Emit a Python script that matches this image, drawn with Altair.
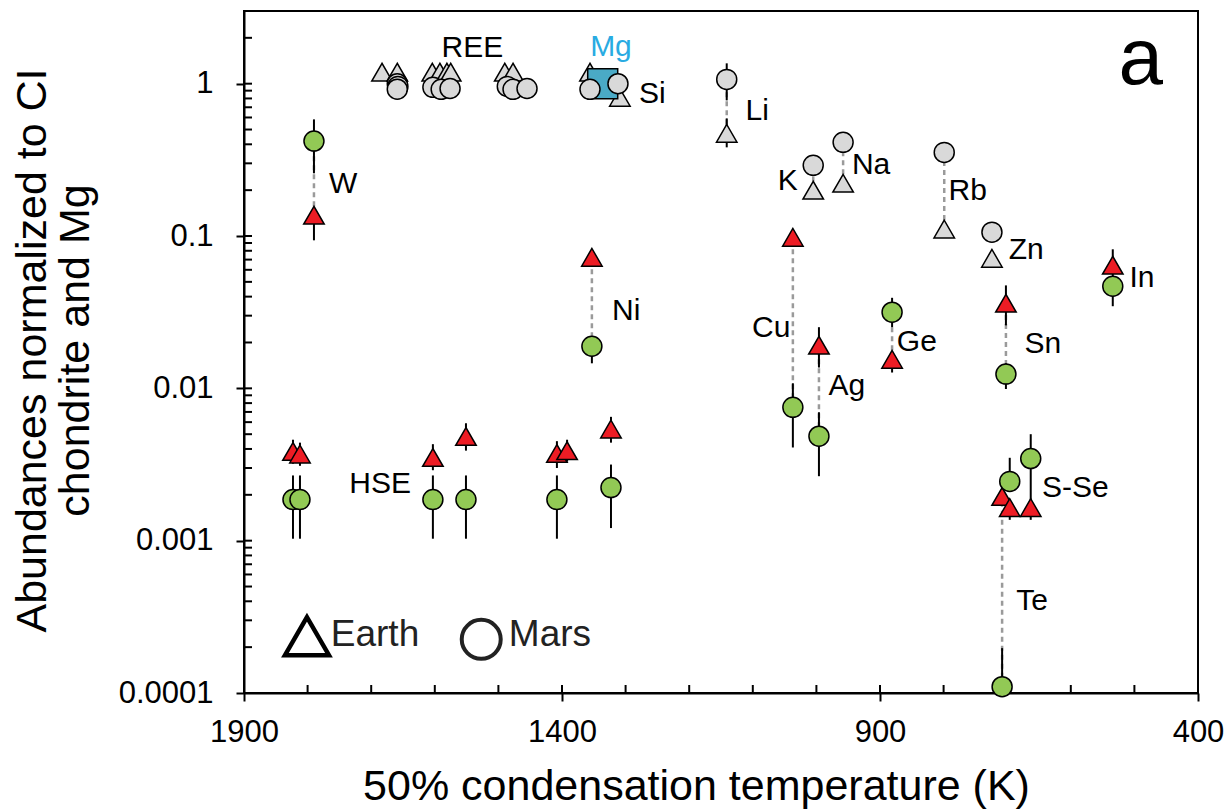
import altair as alt
import pandas as pd

FONT = "Liberation Sans"

# ---- Earth (triangles) lithophile / volatile lithophile (gray)
earth_lith_T = [1683, 1659, 1604, 1592, 1581, 1575, 1490, 1477, 1356, 1309, 1141, 1005, 958, 799, 724]
earth_lith_v = [1.19, 1.19, 1.19, 1.19, 1.19, 1.19, 1.19, 1.19, 1.19, 0.813, 0.472, 0.20, 0.222, 0.111, 0.0714]

# ---- Mars (circles) lithophile (gray)
mars_lith_T = [1659, 1658, 1659, 1603, 1590, 1576, 1486, 1477, 1455, 1356, 1312, 1141, 1005, 958, 799, 724]
mars_lith_v = [1.0, 0.96, 0.92, 0.946, 0.918, 0.93, 0.96, 0.918, 0.93, 0.918, 1.0, 1.067, 0.291, 0.412, 0.354, 0.106]

# ---- Earth siderophile / chalcophile (red triangles)
earth_sid_T = [1790, 1823, 1812, 1603, 1551, 1408, 1392, 1323, 1353, 1037, 996, 881, 702, 534, 708, 696, 663]
earth_sid_v = [0.137, 0.00385, 0.0037, 0.00352, 0.00483, 0.00374, 0.0039, 0.0054, 0.0725, 0.098, 0.0192,
               0.0155, 0.0362, 0.0643, 0.00195, 0.00165, 0.00165]

# ---- Mars siderophile / chalcophile (green circles)
mars_sid_T = [1790, 1823, 1812, 1603, 1551, 1408, 1323, 1353, 1037, 996, 881, 702, 534, 708, 696, 663]
mars_sid_v = [0.42, 0.00186, 0.00186, 0.00186, 0.00186, 0.00186, 0.00223, 0.0189, 0.0075, 0.00485,
              0.0316, 0.0124, 0.0468, 0.00011, 0.00245, 0.00346]

# ---- Mg reference
mg_T = [1336]
mg_v = [1.0]

# ---- error bars (T, low, high)
err_T = [1790, 1790, 1823, 1812, 1603, 1551, 1408, 1323,
         1823, 1812, 1603, 1551, 1408, 1392, 1323,
         1353, 1141, 1141, 1005, 534, 1037, 996, 996, 881, 881, 702, 702, 663, 696, 696, 708]
err_lo = [0.258, 0.0937, 0.00103, 0.00103, 0.00103, 0.00103, 0.00103, 0.00121,
          0.0032, 0.0031, 0.0029, 0.0039, 0.0030, 0.0033, 0.0044,
          0.0146, 0.777, 0.382, 0.177, 0.0346, 0.00409, 0.0137, 0.00265, 0.0252, 0.0127, 0.0259, 0.0099,
          0.00137, 0.00245, 0.00137, 0.00011]
err_hi = [0.583, 0.137, 0.00268, 0.00268, 0.00268, 0.00268, 0.00268, 0.00316,
          0.0046, 0.0044, 0.0043, 0.0059, 0.0045, 0.0046, 0.0065,
          0.0189, 1.36, 0.592, 0.20, 0.0818, 0.0108, 0.0252, 0.00697, 0.0393, 0.0155, 0.0474, 0.0146,
          0.0050, 0.0035, 0.00165, 0.000197]

# ---- dashed connectors Earth <-> Mars (T, a, b)
con_T = [1790, 1353, 1141, 1005, 958, 799, 1037, 996, 881, 702, 708]
con_a = [0.137, 0.0189, 0.472, 0.20, 0.222, 0.111, 0.0075, 0.00485, 0.0155, 0.0124, 0.00011]
con_b = [0.42, 0.0725, 1.067, 0.291, 0.412, 0.354, 0.098, 0.0192, 0.0316, 0.0362, 0.00195]

# ---- element labels (baseline position in data units)
lab_text = ["REE", "Si", "W", "Ni", "Li", "K", "Na", "Rb", "Zn", "In", "Cu", "Ag", "Ge", "Sn", "S-Se", "Te", "HSE"]
lab_T = [1541, 1258, 1744, 1299, 1093, 1045, 914, 762, 670, 488, 1071, 952, 842, 644, 593, 661, 1686]
lab_v = [1.488, 0.743, 0.1906, 0.028, 0.574, 0.1995, 0.254, 0.1715, 0.0703, 0.046, 0.0216, 0.009,
         0.0175, 0.017, 0.00193, 0.00035, 0.00205]

mg_lab = ["Mg"]
mg_lab_T = [1323]
mg_lab_v = [1.51]

panel_lab = ["a"]
panel_T = [490]
panel_v = [1.0]

# ---- legend
leg_text = ["Earth", "Mars"]
leg_text_T = [1694, 1419]
leg_text_v = [0.000203, 0.000203]
leg_shape = ["triangle-up", "circle"]
leg_sym_T = [1801, 1527]
leg_sym_v = [0.000236, 0.000225]

# ---- axis ticks
x_major = [1900, 1400, 900, 400]
x_minor = [1800, 1700, 1600, 1500, 1400, 1300, 1200, 1100, 1000, 900, 800, 700, 600, 500]
y_major = [0.0001, 0.001, 0.01, 0.1, 1]
y_minor = [m * d for d in [0.0001, 0.001, 0.01, 0.1, 1] for m in [1, 2, 3, 4, 5, 6, 7, 8, 9] if m * d < 3]

W, H = 954, 682

xs = alt.Scale(domain=[400, 1900], reverse=True, nice=False, zero=False)
ys = alt.Scale(type="log", domain=[0.0001, 3], nice=False)

x_axis = alt.Axis(values=x_major, format="d", title="50% condensation temperature (K)",
                  titleFontSize=43, titleFontWeight="normal", titleX=452, titleY=106,
                  titleBaseline="alphabetic", titleAlign="center",
                  labelFontSize=31, labelPadding=16, labelFlush=False,
                  tickSize=8, tickWidth=2, tickColor="black",
                  domainColor="black", domainWidth=2, grid=False,
                  labelColor="black", titleColor="black", labelFont=FONT, titleFont=FONT)
y_axis = alt.Axis(values=y_major, format="~g",
                  title=["Abundances normalized to CI", "chondrite and Mg"],
                  titleFontSize=43, titleFontWeight="normal", titleX=-212, titleY=339,
                  titleAngle=-90, titleBaseline="middle", titleAlign="center", titleLineHeight=43,
                  labelFontSize=31, labelPadding=23,
                  tickSize=8, tickWidth=2, tickColor="black",
                  domainColor="black", domainWidth=2, grid=False,
                  labelColor="black", titleColor="black", labelFont=FONT, titleFont=FONT)


def X(field="T"):
    return alt.X(f"{field}:Q", scale=xs, axis=x_axis)


def Y(field="v"):
    return alt.Y(f"{field}:Q", scale=ys, axis=y_axis)


con_df = pd.DataFrame({"T": con_T, "a": con_a, "b": con_b})
connectors = alt.Chart(con_df).mark_rule(color="#9a9a9a", strokeWidth=2.5, strokeDash=[5, 4]).encode(
    x=X(), y=Y("a"), y2="b:Q")

err_df = pd.DataFrame({"T": err_T, "lo": err_lo, "hi": err_hi})
errbars = alt.Chart(err_df).mark_rule(color="black", strokeWidth=2).encode(
    x=X(), y=Y("lo"), y2="hi:Q")

xt_df = pd.DataFrame({"T": x_minor})
xticks = alt.Chart(xt_df).mark_rule(color="black", strokeWidth=2).encode(
    x=X(), y=alt.value(H), y2=alt.value(H - 8))

yt_df = pd.DataFrame({"v": y_minor})
yticks = alt.Chart(yt_df).mark_rule(color="black", strokeWidth=2).encode(
    y=Y(), x=alt.value(0), x2=alt.value(8))

frame = alt.Chart(pd.DataFrame({"k": [0]})).mark_rect(fill=None, stroke="black", strokeWidth=2).encode(
    x=alt.value(0), x2=alt.value(W), y=alt.value(0), y2=alt.value(H))

el_df = pd.DataFrame({"T": earth_lith_T, "v": earth_lith_v})
earth_lith = alt.Chart(el_df).mark_point(shape="triangle-up", size=420, filled=True, fill="#d9d9d9",
                                          stroke="black", strokeWidth=1.5, opacity=1).encode(x=X(), y=Y())

mg_df = pd.DataFrame({"T": mg_T, "v": mg_v})
mg_box = alt.Chart(mg_df).mark_point(shape="square", size=900, filled=True, fill="#4aaac6",
                                     stroke="black", strokeWidth=1.5, opacity=1).encode(x=X(), y=Y())

ml_df = pd.DataFrame({"T": mars_lith_T, "v": mars_lith_v})
mars_lith = alt.Chart(ml_df).mark_point(shape="circle", size=400, filled=True, fill="#d9d9d9",
                                         stroke="black", strokeWidth=1.5, opacity=1).encode(x=X(), y=Y())

es_df = pd.DataFrame({"T": earth_sid_T, "v": earth_sid_v})
earth_sid = alt.Chart(es_df).mark_point(shape="triangle-up", size=420, filled=True, fill="#ed1c24",
                                         stroke="black", strokeWidth=1.5, opacity=1).encode(x=X(), y=Y())

ms_df = pd.DataFrame({"T": mars_sid_T, "v": mars_sid_v})
mars_sid = alt.Chart(ms_df).mark_point(shape="circle", size=400, filled=True, fill="#92c955",
                                        stroke="black", strokeWidth=1.5, opacity=1).encode(x=X(), y=Y())

lab_df = pd.DataFrame({"T": lab_T, "v": lab_v, "t": lab_text})
labels = alt.Chart(lab_df).mark_text(font=FONT, fontSize=30, color="black", align="center",
                                      baseline="alphabetic").encode(x=X(), y=Y(), text="t:N")

mgl_df = pd.DataFrame({"T": mg_lab_T, "v": mg_lab_v, "t": mg_lab})
mg_label = alt.Chart(mgl_df).mark_text(font=FONT, fontSize=30, color="#29abe2", align="center",
                                        baseline="alphabetic").encode(x=X(), y=Y(), text="t:N")

pan_df = pd.DataFrame({"T": panel_T, "v": panel_v, "t": panel_lab})
panel = alt.Chart(pan_df).mark_text(font=FONT, fontSize=80, color="black", align="center",
                                     baseline="alphabetic").encode(x=X(), y=Y(), text="t:N")

legt_df = pd.DataFrame({"T": leg_text_T, "v": leg_text_v, "t": leg_text})
leg_text_layer = alt.Chart(legt_df).mark_text(font=FONT, fontSize=37, color="#222222", align="center",
                                               baseline="alphabetic").encode(x=X(), y=Y(), text="t:N")

legs_df = pd.DataFrame({"T": leg_sym_T, "v": leg_sym_v, "s": leg_shape})
leg_tri = alt.Chart(legs_df.iloc[[0]]).mark_point(shape="triangle-up", size=1936, filled=False,
                                                   stroke="black", strokeWidth=4.5, opacity=1).encode(x=X(), y=Y())
leg_circ = alt.Chart(legs_df.iloc[[1]]).mark_point(shape="circle", size=1521, filled=False,
                                                    stroke="#222222", strokeWidth=4, opacity=1).encode(x=X(), y=Y())

chart = alt.layer(
    connectors, errbars, xticks, yticks, frame,
    earth_lith, mg_box, mars_lith, earth_sid, mars_sid,
    labels, mg_label, panel, leg_text_layer, leg_tri, leg_circ,
).properties(
    width=W, height=H,
    autosize=alt.AutoSizeParams(type="none"),
    padding={"left": 244, "top": 11, "right": 30, "bottom": 118},
    background="white",
).configure_view(
    stroke=None
)

chart.save("out.html", embed_options={"renderer": "svg", "actions": False})
